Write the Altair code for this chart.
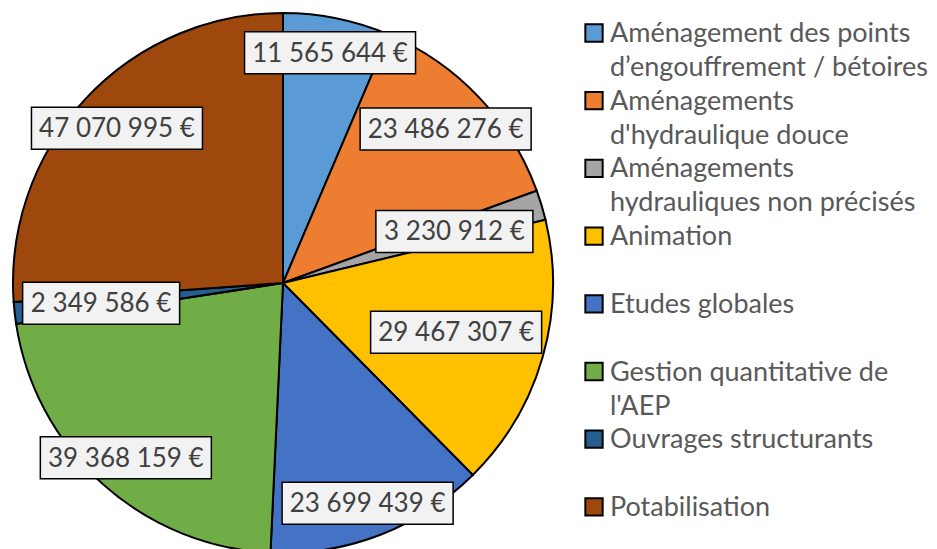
import altair as alt
import pandas as pd

categories = [
    "Aménagement des points d’engouffrement / bétoires",
    "Aménagements d'hydraulique douce",
    "Aménagements hydrauliques non précisés",
    "Animation",
    "Etudes globales",
    "Gestion quantitative de l'AEP",
    "Ouvrages structurants",
    "Potabilisation",
]
values = [11565644, 23486276, 3230912, 29467307, 23699439, 39368159, 2349586, 47070995]
legend_lines = [
    ["Aménagement des points", "d’engouffrement / bétoires"],
    ["Aménagements", "d'hydraulique douce"],
    ["Aménagements", "hydrauliques non précisés"],
    ["Animation"],
    ["Etudes globales"],
    ["Gestion quantitative de", "l'AEP"],
    ["Ouvrages structurants"],
    ["Potabilisation"],
]
colors = ["#5B9BD5", "#ED7D31", "#A5A5A5", "#FFC000", "#4472C4", "#70AD47", "#255E91", "#9E480E"]

# layout: distance of each data label from the pie centre (px)
label_radius = [235, 224, 179, 180, 236, 235, 183, 227]

labels = [f"{v:,}".replace(",", " ") + " €" for v in values]

df = pd.DataFrame({
    "cat": categories,
    "value": values,
    "idx": list(range(len(categories))),
    "label": labels,
    "lr": label_radius,
    "lines": legend_lines,
})

CX, CY, R = 275, 275, 270
LEG_Y0, LEG_STEP, LINE_H = 25, 67.7, 34

base = alt.Chart(df)

pie = base.mark_arc(radius=R, stroke="black", strokeWidth=2).encode(
    theta=alt.Theta("value:Q", stack=True),
    order=alt.Order("idx:Q"),
    color=alt.Color("cat:N", scale=alt.Scale(domain=categories, range=colors), legend=None),
    x=alt.value(CX),
    y=alt.value(CY),
)

lab = base.transform_joinaggregate(total="sum(value)").transform_window(
    cum="sum(value)", sort=[alt.SortField("idx")], frame=[None, 0]
).transform_calculate(
    mid="(datum.cum - datum.value / 2) / datum.total * 2 * PI",
).transform_calculate(
    cx=f"{CX} + datum.lr * sin(datum.mid)",
    cy=f"{CY} - datum.lr * cos(datum.mid)",
    w="length(datum.label) * 14 + 3",
).transform_calculate(
    bx1="datum.cx - datum.w / 2",
    bx2="datum.cx + datum.w / 2",
    by1="datum.cy - 21",
    by2="datum.cy + 21",
)

boxes = lab.mark_rect(fill="#F2F2F2", stroke="black", strokeWidth=1.5).encode(
    x=alt.X("bx1:Q", scale=None),
    x2="bx2:Q",
    y=alt.Y("by1:Q", scale=None),
    y2="by2:Q",
)
texts = lab.mark_text(font="Lato", fontSize=26, color="#404040", baseline="middle", dy=1).encode(
    x=alt.X("cx:Q", scale=None),
    y=alt.Y("cy:Q", scale=None),
    text="label:N",
)

squares = base.transform_calculate(
    ly=f"{LEG_Y0} + {LEG_STEP} * datum.idx"
).mark_point(shape="square", filled=True, size=300, stroke="black", strokeWidth=2, opacity=1).encode(
    x=alt.value(586),
    y=alt.Y("ly:Q", scale=None),
    fill=alt.Color("cat:N", scale=alt.Scale(domain=categories, range=colors), legend=None),
)

leg_text = base.transform_flatten(["lines"], as_=["line"]).transform_window(
    li="row_number()", groupby=["cat"]
).transform_calculate(
    ly=f"{LEG_Y0} + {LEG_STEP} * datum.idx + {LINE_H} * (datum.li - 1)"
).mark_text(font="Lato", fontSize=27, color="#595959", align="left", baseline="middle", dy=1).encode(
    x=alt.value(602),
    y=alt.Y("ly:Q", scale=None),
    text="line:N",
)

chart = alt.layer(pie, boxes, texts, squares, leg_text).properties(
    width=921, height=541, autosize=alt.AutoSizeParams(type="none"), padding=0,
    background="white",
).configure_view(stroke=None)

chart.save("out.html", embed_options={"renderer": "svg", "actions": False})
